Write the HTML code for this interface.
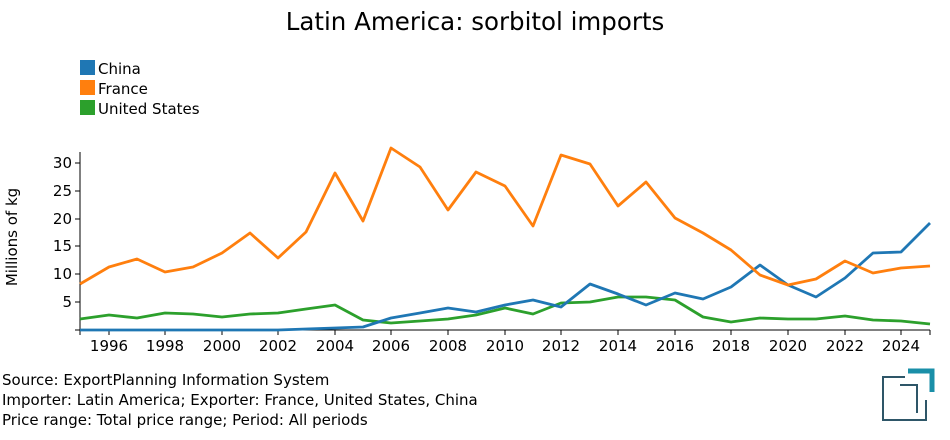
<!DOCTYPE html>
<html><head><meta charset="utf-8"><style>
body{margin:0;background:#fff;}
svg text{font-family:"DejaVu Sans","Liberation Sans",sans-serif;}
</style></head><body>
<svg width="950" height="435" xmlns="http://www.w3.org/2000/svg">
<text x="475" y="30" font-size="24.5" text-anchor="middle" fill="#000">Latin America: sorbitol imports</text>
<rect x="80" y="60" width="15" height="15" fill="#1f77b4"/><text x="98" y="74" font-size="15">China</text>
<rect x="80" y="80" width="15" height="15" fill="#ff7f0e"/><text x="98" y="94" font-size="15">France</text>
<rect x="80" y="100" width="15" height="15" fill="#2ca02c"/><text x="98" y="114" font-size="15">United States</text>
<text transform="translate(17,237) rotate(-90)" font-size="15" text-anchor="middle">Millions of kg</text>
<g stroke="#000" stroke-width="1">
<line x1="80" y1="152" x2="80" y2="330"/>
<line x1="80" y1="330" x2="930" y2="330"/>
<line x1="75" y1="163" x2="80" y2="163"/><line x1="75" y1="191" x2="80" y2="191"/><line x1="75" y1="219" x2="80" y2="219"/><line x1="75" y1="246" x2="80" y2="246"/><line x1="75" y1="274" x2="80" y2="274"/><line x1="75" y1="302" x2="80" y2="302"/><line x1="75" y1="330" x2="80" y2="330"/>
<line x1="80" y1="330" x2="80" y2="335"/><line x1="109" y1="330" x2="109" y2="335"/><line x1="165" y1="330" x2="165" y2="335"/><line x1="222" y1="330" x2="222" y2="335"/><line x1="278" y1="330" x2="278" y2="335"/><line x1="335" y1="330" x2="335" y2="335"/><line x1="391" y1="330" x2="391" y2="335"/><line x1="448" y1="330" x2="448" y2="335"/><line x1="505" y1="330" x2="505" y2="335"/><line x1="561" y1="330" x2="561" y2="335"/><line x1="618" y1="330" x2="618" y2="335"/><line x1="675" y1="330" x2="675" y2="335"/><line x1="731" y1="330" x2="731" y2="335"/><line x1="788" y1="330" x2="788" y2="335"/><line x1="845" y1="330" x2="845" y2="335"/><line x1="901" y1="330" x2="901" y2="335"/><line x1="930" y1="330" x2="930" y2="335"/>
</g>
<g font-size="15" text-anchor="end">
<text x="72" y="168">30</text><text x="72" y="196">25</text><text x="72" y="224">20</text><text x="72" y="251">15</text><text x="72" y="279">10</text><text x="72" y="307">5</text>
</g>
<g font-size="15" text-anchor="middle">
<text x="109" y="351">1996</text><text x="165" y="351">1998</text><text x="222" y="351">2000</text><text x="278" y="351">2002</text><text x="335" y="351">2004</text><text x="391" y="351">2006</text><text x="448" y="351">2008</text><text x="505" y="351">2010</text><text x="561" y="351">2012</text><text x="618" y="351">2014</text><text x="675" y="351">2016</text><text x="731" y="351">2018</text><text x="788" y="351">2020</text><text x="845" y="351">2022</text><text x="901" y="351">2024</text>
</g>
<g fill="none" stroke-width="2.8" stroke-linejoin="round">
<polyline stroke="#2ca02c" points="80,319 109,315 137,318 165,313 193,314 222,317 250,314 278,313 306,309 335,305 363,320 391,323 420,321 448,319 476,315 505,308 533,314 561,303 590,302 618,297 646,297 675,300 703,317 731,322 760,318 788,319 816,319 845,316 873,320 901,321 930,324"/>
<polyline stroke="#1f77b4" points="80,330 109,330 137,330 165,330 193,330 222,330 250,330 278,330 306,329 335,328 363,327 391,318 420,313 448,308 476,312 505,305 533,300 561,307 590,284 618,294 646,305 675,293 703,299 731,287 760,265 788,285 816,297 845,278 873,253 901,252 930,223"/>
<polyline stroke="#ff7f0e" points="80,284 109,267 137,259 165,272 193,267 222,253 250,233 278,258 306,232 335,173 363,221 391,148 420,167 448,210 476,172 505,186 533,226 561,155 590,164 618,206 646,182 675,218 703,233 731,250 760,275 788,285 816,279 845,261 873,273 901,268 930,266"/>
</g>
<g font-size="15">
<text x="2" y="385">Source: ExportPlanning Information System</text>
<text x="2" y="405">Importer: Latin America; Exporter: France, United States, China</text>
<text x="2" y="425">Price range: Total price range; Period: All periods</text>
</g>
<g fill="none">
<polyline points="905,377 883,377 883,420 926,420 926,400" stroke="#2e5668" stroke-width="2"/>
<polyline points="900,385 917,385 917,413" stroke="#2e5668" stroke-width="2"/>
<polyline points="908,371 932,371 932,392" stroke="#1a8fa8" stroke-width="5"/>
</g>
</svg>
</body></html>
